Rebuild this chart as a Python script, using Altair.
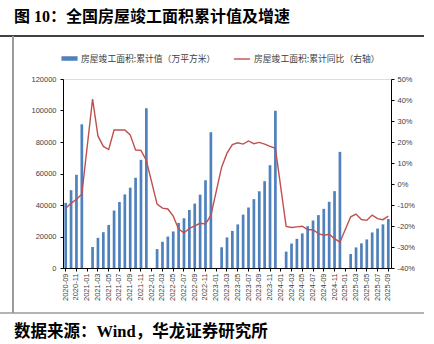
import altair as alt
import pandas as pd

# ---------------- data ----------------
months = []
for y in range(2020, 2026):
    for m in range(1, 13):
        ym = f"{y}-{m:02d}"
        if "2020-09" <= ym <= "2025-09":
            months.append(ym)

# cumulative completed floor area (10k m2); January not published
area = [
    41385, 49403, 59173, 91218,
    None, 13336, 19135, 22740, 27331, 36481, 41926, 46739, 51013, 57289, 68685, 101412,
    None, 12008, 16634, 19955, 23193, 28636, 31606, 36846, 40879, 46565, 55709, 86222,
    None, 13178, 19422, 23550, 27694, 33904, 38405, 43726, 48705, 55151, 65237, 99831,
    None, 10395, 15530, 18509, 21964, 26519, 30173, 33585, 37556, 42038, 48793, 73743,
    None, 8913, 13060, 15648, 18147, 22567, 25034, 27694, 31129,
]
# cumulative YoY (%)
yoy = [
    -11.6, -9.2, -7.3, -4.9,
    None, 40.4, 22.9, 17.9, 16.4, 25.7, 25.7, 25.7, 23.4, 16.2, 16.0, 11.2,
    None, -9.6, -11.5, -11.9, -15.3, -21.5, -23.3, -21.1, -19.9, -18.7, -19.0, -15.0,
    None, 8.0, 14.7, 18.8, 19.6, 19.0, 20.5, 19.2, 19.8, 19.0, 17.9, 17.0,
    None, -20.2, -20.7, -20.4, -20.1, -21.8, -21.8, -23.6, -24.4, -23.9, -26.0, -27.7,
    None, -15.6, -14.3, -16.9, -17.3, -14.8, -16.5, -17.0, -15.3,
]
bar_name = "房屋竣工面积:累计值（万平方米）"
line_name = "房屋竣工面积:累计同比（右轴）"
title_text = "图 10：全国房屋竣工面积累计值及增速"
source_text = "数据来源：Wind，华龙证券研究所"
left_ticks = [0, 20000, 40000, 60000, 80000, 100000, 120000]
right_ticks = [-40, -30, -20, -10, 0, 10, 20, 30, 40, 50]

df = pd.DataFrame({"month": months, "area": area, "yoy": yoy})
df["s1"] = bar_name
df["s2"] = line_name

BLUE = "#4F81BD"
RED = "#C0504D"
LAB = "#404040"
FONT = "Liberation Sans, Noto Sans CJK SC"
CJK = "Noto Sans CJK SC"
SERIF = "Liberation Serif, Noto Sans CJK SC"

W, H = 328, 189
x_scale = alt.Scale(domain=months, paddingInner=0.5, paddingOuter=0.25)
x_axis = alt.Axis(
    values=months[::2], labelAngle=270, labelFontSize=7.5, labelColor=LAB,
    labelFont=FONT, title=None, domainColor="#000000", tickColor="#000000",
    tickSize=3, labelPadding=2, labelOverlap=False,
)

base = alt.Chart(df)

bars = base.transform_filter("isValid(datum.area)").mark_bar(size=2.7).encode(
    x=alt.X("month:O", scale=x_scale, axis=x_axis, sort=months),
    y=alt.Y("area:Q", scale=alt.Scale(domain=[0, 120000], nice=False),
            axis=alt.Axis(values=left_ticks, format="d", title=None, grid=False,
                          labelFontSize=7.5, labelColor=LAB, labelFont=FONT,
                          domainColor="#000000", tickColor="#000000", tickSize=3,
                          labelPadding=4)),
    color=alt.Color("s1:N", scale=alt.Scale(domain=[bar_name], range=[BLUE]),
                    legend=alt.Legend(orient="none", legendX=-2, legendY=-29,
                                      title=None, symbolType="M-1,-0.28H1V0.28H-1Z",
                                      symbolSize=260, symbolStrokeWidth=0,
                                      labelFontSize=8.8, labelFont=CJK, labelColor=LAB,
                                      labelOffset=3)),
)

line = base.transform_filter("isValid(datum.yoy)").mark_line(strokeWidth=1.4).encode(
    x=alt.X("month:O", scale=x_scale, sort=months),
    y=alt.Y("yoy:Q", scale=alt.Scale(domain=[-40, 50], nice=False),
            axis=alt.Axis(orient="right", values=right_ticks, title=None, grid=False,
                          labelExpr="datum.value + '%'",
                          labelFontSize=7.5, labelColor=LAB, labelFont=FONT,
                          domainColor="#000000", tickColor="#000000", tickSize=3,
                          labelPadding=3)),
    stroke=alt.Stroke("s2:N", scale=alt.Scale(domain=[line_name], range=[RED]),
                      legend=alt.Legend(orient="none", legendX=170, legendY=-29,
                                        title=None, symbolType="stroke",
                                        symbolSize=260, symbolStrokeWidth=1.4,
                                        labelFontSize=8.8, labelFont=CJK, labelColor=LAB,
                                        labelOffset=3)),
)

ox, oy = 63, 79  # plot origin in page coords


def rule(x1, y1, x2, y2, color, width):
    return alt.Chart(pd.DataFrame({"k": [0]})).mark_rule(
        color=color, strokeWidth=width).encode(
        x=alt.value(x1 - ox), x2=alt.value(x2 - ox),
        y=alt.value(y1 - oy), y2=alt.value(y2 - oy))


def label(txt, x, y, size):
    return alt.Chart(pd.DataFrame({"t": [txt]})).mark_text(
        align="left", baseline="middle", fontSize=size, fontWeight="bold",
        font=SERIF, color="#000000").encode(
        x=alt.value(x - ox), y=alt.value(y - oy), text="t:N")


deco = [
    rule(0, 36, 424, 36, "#000000", 1.3),
    rule(13, 36, 13, 313, "#9a9a9a", 2),
    rule(0, 313, 424, 313, "#9a9a9a", 1.5),
    label(title_text, 14, 17, 16),
    label(source_text, 14, 332, 16.5),
]

chart = alt.layer(bars, line, *deco).resolve_scale(
    y="independent", color="independent", stroke="independent"
).properties(
    width=W, height=H,
    autosize=alt.AutoSizeParams(type="none"),
    padding={"left": ox, "top": oy, "right": 434 - ox - W, "bottom": 344 - oy - H},
).configure_view(stroke=None).configure(background="white")

chart.save("out.html", embed_options={"renderer": "svg", "actions": False})
